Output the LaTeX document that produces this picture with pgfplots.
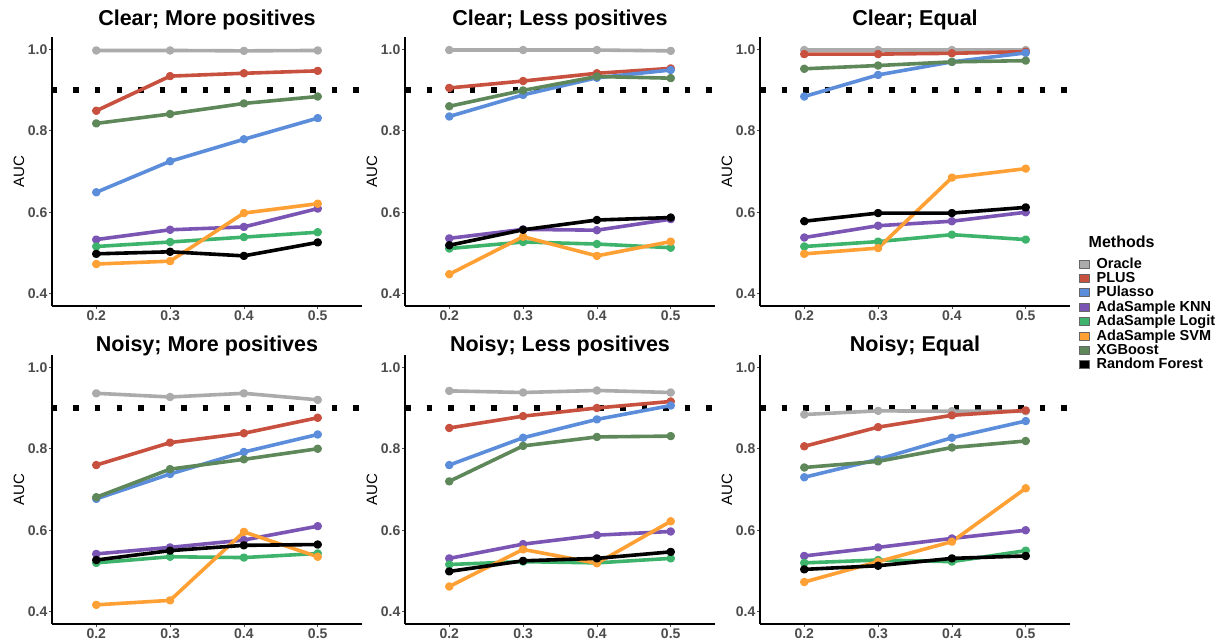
\documentclass[border=0pt]{standalone}
\usepackage{pgfplots}
\usepackage{pgfplotstable}
\pgfplotsset{compat=1.18}
\usepackage{fontspec}
\setmainfont{Liberation Sans}

\definecolor{cOracle}{HTML}{ABABAB}
\definecolor{cPlus}{HTML}{C8503E}
\definecolor{cPulasso}{HTML}{5B8DDB}
\definecolor{cKnn}{HTML}{7B55B3}
\definecolor{cLogit}{HTML}{3EB36B}
\definecolor{cSvm}{HTML}{FFA035}
\definecolor{cXgb}{HTML}{5E875A}
\definecolor{cRf}{HTML}{000000}

% x: 1..4 stand for 0.2 .. 0.5
\pgfplotstableread{
x oracle plus pulasso knn logit svm xgb rf
1 0.997 0.849 0.649 0.533 0.516 0.473 0.818 0.498
2 0.997 0.934 0.725 0.557 0.527 0.480 0.841 0.503
3 0.996 0.941 0.779 0.564 0.539 0.598 0.867 0.493
4 0.997 0.947 0.831 0.609 0.551 0.621 0.884 0.526
}\tClearMore
\pgfplotstableread{
x oracle plus pulasso knn logit svm xgb rf
1 0.998 0.905 0.835 0.536 0.511 0.448 0.860 0.519
2 0.998 0.922 0.888 0.558 0.527 0.540 0.899 0.557
3 0.998 0.941 0.930 0.556 0.522 0.493 0.933 0.581
4 0.996 0.953 0.949 0.583 0.513 0.528 0.929 0.587
}\tClearLess
\pgfplotstableread{
x oracle plus pulasso knn logit svm xgb rf
1 0.998 0.988 0.884 0.538 0.516 0.498 0.952 0.578
2 0.998 0.988 0.937 0.567 0.528 0.512 0.960 0.598
3 0.998 0.990 0.969 0.578 0.545 0.685 0.969 0.598
4 0.998 0.994 0.991 0.600 0.533 0.707 0.972 0.612
}\tClearEqual
\pgfplotstableread{
x oracle plus pulasso knn logit svm xgb rf
1 0.936 0.760 0.677 0.542 0.520 0.417 0.681 0.527
2 0.927 0.815 0.738 0.558 0.535 0.428 0.750 0.550
3 0.936 0.838 0.792 0.576 0.533 0.596 0.774 0.563
4 0.920 0.876 0.835 0.610 0.543 0.535 0.800 0.565
}\tNoisyMore
\pgfplotstableread{
x oracle plus pulasso knn logit svm xgb rf
1 0.942 0.851 0.760 0.531 0.516 0.462 0.720 0.499
2 0.938 0.880 0.827 0.566 0.523 0.553 0.807 0.525
3 0.943 0.900 0.872 0.588 0.520 0.519 0.829 0.531
4 0.938 0.916 0.906 0.597 0.531 0.622 0.831 0.547
}\tNoisyLess
\pgfplotstableread{
x oracle plus pulasso knn logit svm xgb rf
1 0.884 0.806 0.730 0.537 0.520 0.473 0.754 0.504
2 0.893 0.853 0.774 0.558 0.527 0.523 0.769 0.513
3 0.892 0.882 0.827 0.580 0.523 0.572 0.803 0.531
4 0.892 0.894 0.868 0.600 0.550 0.703 0.819 0.537
}\tNoisyEqual

\newcommand{\ticksize}{\fontsize{14}{14}\selectfont\bfseries}

\pgfplotsset{
  panel/.style={
    scale only axis, width=310pt, height=269pt,
    xmin=0.4, xmax=4.6, ymin=0.37, ymax=1.03,
    axis x line*=bottom, axis y line*=left,
    axis line style={line width=1.1pt, black, -},
    xtick={1,2,3,4}, xticklabels={0.2,0.3,0.4,0.5},
    ytick={0.4,0.6,0.8,1.0}, yticklabels={0.4,0.6,0.8,1.0},
    tick align=outside, major tick length=3pt,
    tick style={line width=0.8pt, black!70},
    tick label style={font=\ticksize, text=black!70, inner sep=1.5pt},
    ylabel={AUC},
    ylabel style={font=\fontsize{15}{15}\selectfont, at={(rel axis cs:0,0.5)}, anchor=center, yshift=33pt},
    title style={font=\fontsize{21.5}{21.5}\selectfont\bfseries, at={(0.5,1)}, anchor=base},
    every axis plot/.append style={line width=3.6pt, mark=*, mark size=2.4pt, line join=round},
    legend image code/.code={\draw[##1, mark=none, line width=0.6pt, draw=black!60, fill] (0pt,-4pt) rectangle (10pt,4pt);},
  },
}

\newcommand{\drawpanel}[1]{%
  \addplot[forget plot, black, line width=5.5pt, mark=none, dash pattern=on 5.5pt off 16pt]
    coordinates {(0.4,0.9) (4.6,0.9)};
  \addplot[cOracle]  table[x=x, y=oracle]  {#1};
  \addplot[cPlus]    table[x=x, y=plus]    {#1};
  \addplot[cPulasso] table[x=x, y=pulasso] {#1};
  \addplot[cKnn]     table[x=x, y=knn]     {#1};
  \addplot[cLogit]   table[x=x, y=logit]   {#1};
  \addplot[cSvm]     table[x=x, y=svm]     {#1};
  \addplot[cXgb]     table[x=x, y=xgb]     {#1};
  \addplot[cRf]      table[x=x, y=rf]      {#1};
}

\begin{document}
\begin{tikzpicture}[x=1pt, y=1pt]
\useasboundingbox (0,0) rectangle (1223,643);

% top row
\begin{axis}[panel, at={(52pt,337pt)}, anchor=south west,
  title={Clear; More positives}, title style={yshift=6pt}]
\drawpanel{\tClearMore}
\end{axis}
\begin{axis}[panel, at={(405pt,337pt)}, anchor=south west,
  title={Clear; Less positives}, title style={yshift=6pt}]
\drawpanel{\tClearLess}
\end{axis}
\begin{axis}[panel, at={(760pt,337pt)}, anchor=south west,
  title={Clear; Equal}, title style={yshift=6pt},
  legend style={at={(rel axis cs:1.019,0.245)}, anchor=north west, draw=none, fill=none,
    font=\fontsize{14.5}{14.5}\selectfont\bfseries, row sep=0pt,
    nodes={inner sep=1pt, text height=10.4pt, text depth=2pt},
    /tikz/every odd column/.append style={column sep=6pt}},
  legend cell align=left]
\addlegendimage{empty legend}
\drawpanel{\tClearEqual}
\legend{\hspace*{-8pt}\raisebox{6pt}{\fontsize{16}{16}\selectfont Methods}, Oracle, PLUS, PUlasso, AdaSample KNN, AdaSample Logit, AdaSample SVM, XGBoost, Random Forest}
\end{axis}

% bottom row
\begin{axis}[panel, at={(52pt,19pt)}, anchor=south west,
  title={Noisy; More positives}, title style={yshift=-2pt}]
\drawpanel{\tNoisyMore}
\end{axis}
\begin{axis}[panel, at={(405pt,19pt)}, anchor=south west,
  title={Noisy; Less positives}, title style={yshift=-2pt}]
\drawpanel{\tNoisyLess}
\end{axis}
\begin{axis}[panel, at={(760pt,19pt)}, anchor=south west,
  title={Noisy; Equal}, title style={yshift=-2pt}]
\drawpanel{\tNoisyEqual}
\end{axis}
\end{tikzpicture}
\end{document}
